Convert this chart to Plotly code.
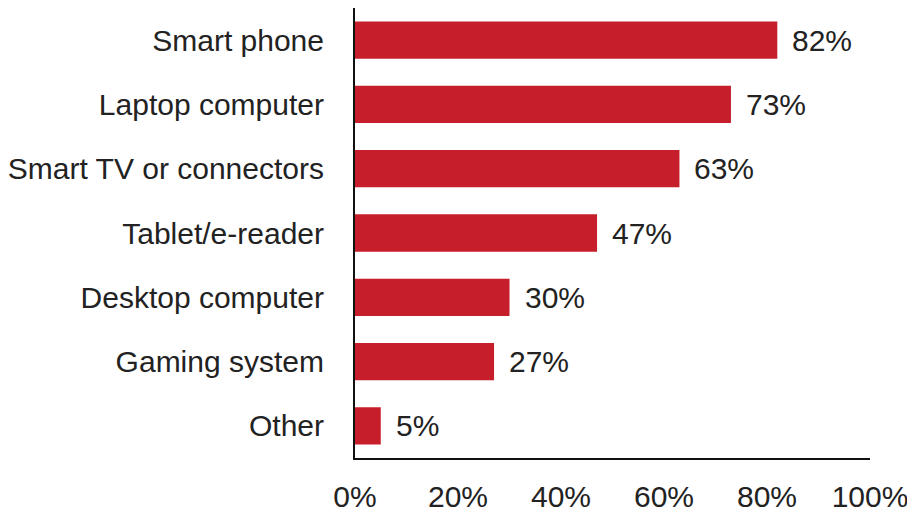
import plotly.graph_objects as go

categories = ["Smart phone", "Laptop computer", "Smart TV or connectors", "Tablet/e-reader",
              "Desktop computer", "Gaming system", "Other"]
values = [82, 73, 63, 47, 30, 27, 5]
tick_values = [0, 20, 40, 60, 80, 100]
tick_labels = ["0%", "20%", "40%", "60%", "80%", "100%"]

bar_color = "#c61f2b"
text_color = "#222222"
font_family = "Liberation Sans, Arial, sans-serif"

# the page body has an 8px margin, so the figure is a bit smaller than the window
fig = go.Figure()
fig.add_trace(go.Bar(x=values,
                     y=categories,
                     orientation='h',
                     marker=dict(color=bar_color, line=dict(width=0)),
                     hoverinfo='x+y'))

for cat, val in zip(categories, values):
    fig.add_annotation(x=val, y=cat, text=f"{val}%", showarrow=False,
                       xanchor='left', xshift=13,
                       font=dict(size=30, color=text_color, family=font_family))

fig.update_layout(width=907, height=504,
                  bargap=0.42,
                  showlegend=False,
                  margin=dict(l=347, r=45, t=0, b=54, autoexpand=False),
                  paper_bgcolor='white',
                  plot_bgcolor='white',
                  font=dict(family=font_family, size=30, color=text_color),
                  xaxis=dict(range=[0, 100], tickvals=tick_values, ticktext=tick_labels,
                             showgrid=False, zeroline=False, showline=True,
                             linecolor='#111111', linewidth=2, ticks='',
                             ticklabelstandoff=11, automargin=False, fixedrange=True),
                  yaxis=dict(categoryorder='array', categoryarray=categories[::-1],
                             showgrid=False, zeroline=False, showline=True,
                             linecolor='#111111', linewidth=2, ticks='',
                             ticklabelstandoff=23, automargin=False, fixedrange=True))

fig.write_html("out.html")
